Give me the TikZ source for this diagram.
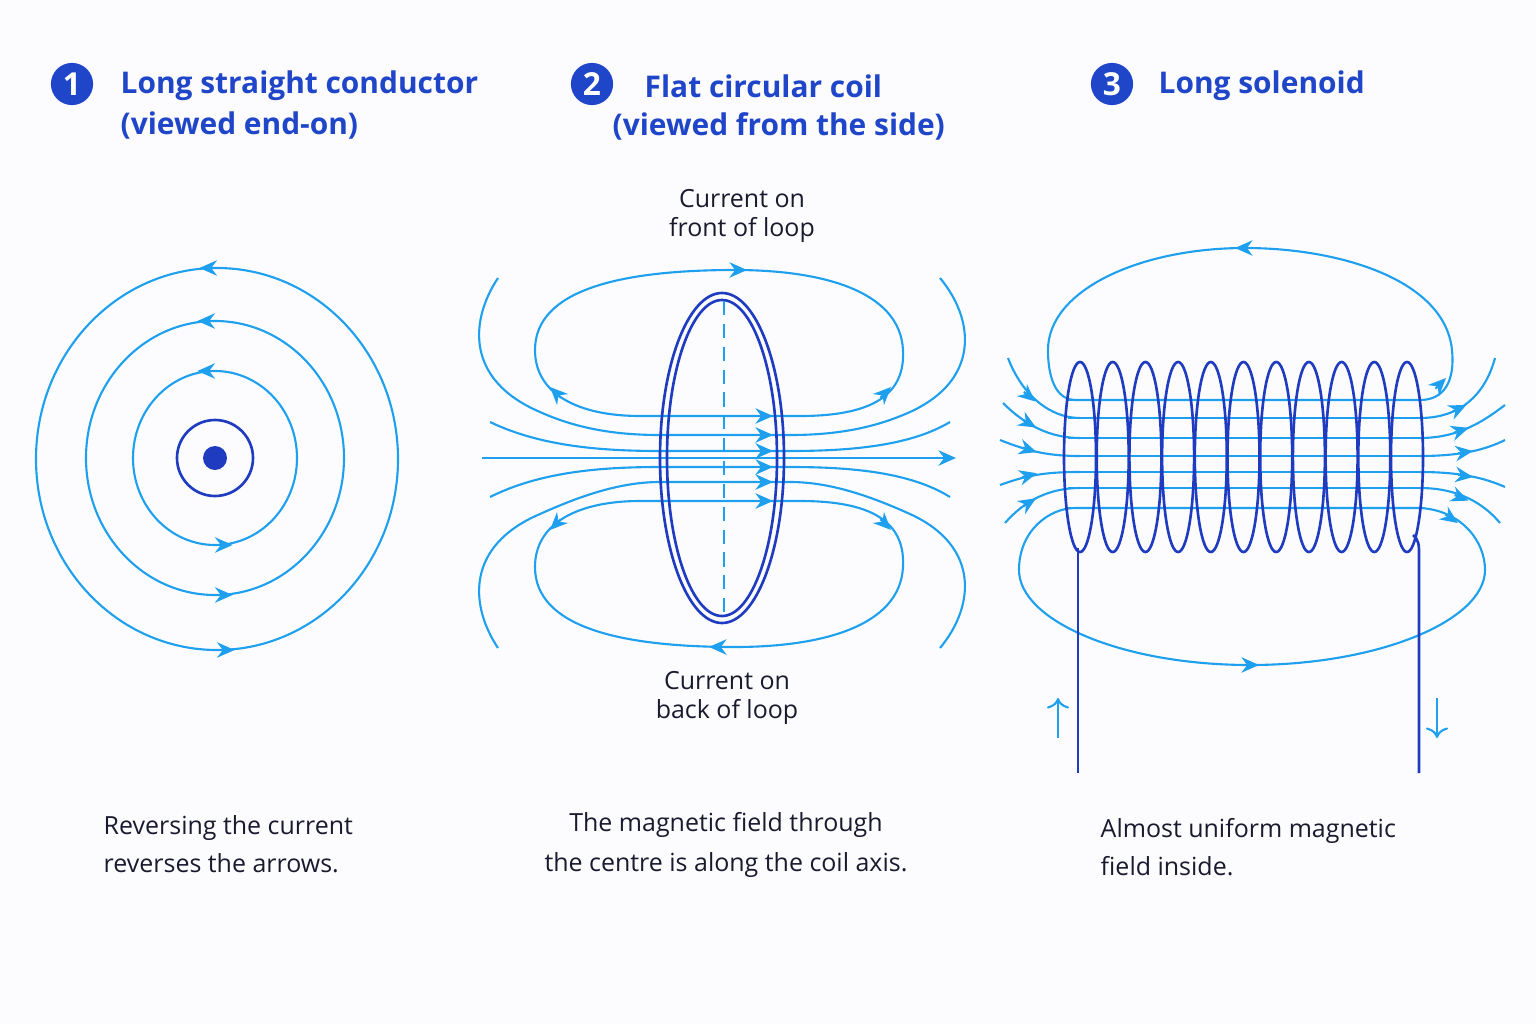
\documentclass[tikz,border=0pt]{standalone}
\usepackage{fontspec}
\setmainfont{Open Sans}
\usetikzlibrary{arrows.meta,decorations.markings,calc}
\definecolor{fl}{HTML}{1EA0EE}
\definecolor{coil}{HTML}{1F3CC0}
\definecolor{ttl}{HTML}{1F45C8}
\definecolor{txt}{HTML}{1A1A2E}
\newcommand\tipat[2]{\draw[fl,line width=0.6pt,-{Stealth[length=5pt,width=4.4pt]}] (#1) ++(#2+180:8) -- ++(#2:15);}
\begin{document}
\begin{tikzpicture}[x=0.01cm,y=-0.01cm,
  fl/.style={draw=fl,line width=0.6pt},
  cl/.style={draw=coil,line width=0.75pt},
  ttl/.style={font=\fontsize{8.5}{10}\selectfont\bfseries,text=ttl,anchor=west,inner sep=0},
  num/.style={circle,fill=ttl,minimum size=12pt,inner sep=0,text=white,font=\fontsize{9}{11}\selectfont\bfseries},
  body/.style={font=\fontsize{7.1}{9}\selectfont,text=txt,inner sep=0},
  ring/.style={fl,postaction={decorate,decoration={markings,
     mark=at position 0.25 with {\arrow{Stealth[length=5pt,width=4.4pt,reversed]}},
     mark=at position 0.75 with {\arrow{Stealth[length=5pt,width=4.4pt,reversed]}}}}}]
\fill[white!99!blue] (0,0) rectangle (1536,1024);
\useasboundingbox (0,0) rectangle (1536,1024);
% titles
\node[num] (n1) at (72,84) {1};
\node[ttl] (t1) at (120,86) {Long straight conductor};
\node[ttl] (t1b) at (120,126) {(viewed end-on)};
\node[num] (n2) at (592,84) {2};
\node[ttl] (t2) at (644,86) {Flat circular coil};
\node[ttl] (t2b) at (612,126) {(viewed from the side)};
\node[num] (n3) at (1112,84) {3};
\node[ttl] (t3) at (1158,86) {Long solenoid};
% panel 1
\fill[coil] (215,458) circle (12);
\draw[cl] (215,458) circle (38);
\draw[ring] (215,458) ellipse [x radius=82,y radius=87];
\draw[ring] (215,458) ellipse [x radius=129,y radius=137];
\draw[ring] (217,459) ellipse [x radius=181,y radius=191];
\node[body,anchor=west,align=left] (b1) at (103,844) {Reversing the current\\[1.8pt]reverses the arrows.};
% panel 2
\node[body,align=center] (c1) at (742,216) {Current on\\[-0.5pt]front of loop};
\node[body,align=center] (c2) at (727,698) {Current on\\[-0.5pt]back of loop};
\node[body,align=center] (b2) at (726,845) {The magnetic field through\\[2.4pt]the centre is along the coil axis.};
\draw[fl] (640,416) -- (800,416) .. controls (880,416) and (905,390) .. (903,350) .. controls (900,290) and (820,270) .. (735,270) .. controls (620,270) and (535,290) .. (535,350) .. controls (535,395) and (580,416) .. (640,416);
\draw[fl] (640,501) -- (800,501) .. controls (880,501) and (905,527) .. (903,567) .. controls (900,627) and (820,647) .. (735,647) .. controls (620,647) and (535,627) .. (535,567) .. controls (535,522) and (580,501) .. (640,501);
\draw[fl] (498,278) .. controls (470,320) and (465,380) .. (540,412) .. controls (580,430) and (620,435) .. (660,435) -- (790,435) .. controls (830,435) and (870,430) .. (910,412) .. controls (980,380) and (975,320) .. (940,278);
\draw[fl] (498,648) .. controls (470,606) and (465,546) .. (540,514) .. controls (580,496) and (620,482) .. (660,482) -- (790,482) .. controls (830,482) and (870,496) .. (910,514) .. controls (980,546) and (975,606) .. (940,648);
\draw[fl] (490,422) .. controls (540,446) and (600,451) .. (660,451) -- (790,451) .. controls (850,451) and (910,446) .. (950,422);
\draw[fl] (490,497) .. controls (540,472) and (600,467) .. (660,467) -- (790,467) .. controls (850,467) and (910,472) .. (950,497);
\draw[fl,-{Stealth[length=5pt,width=4.4pt]}] (482,458) -- (956,458);
\foreach \y in {416,435,451,467,482,501} {\tipat{766,\y}{0}}
\tipat{740,270}{0}
\tipat{716,647}{180}
\tipat{886,392}{-45}
\tipat{555,392}{-135}
\tipat{886,525}{45}
\tipat{555,525}{135}
\draw[cl] (722,458) ellipse [x radius=62,y radius=165];
\draw[cl] (722,458) ellipse [x radius=55,y radius=158];
\draw[fl,dashed,dash pattern=on 4pt off 2.5pt] (724,301) -- (724,615);
% panel 3
\foreach \y in {400,418,438,456,472,488,508} {\draw[fl] (1068,\y) -- (1425,\y);}
\draw[fl] (1075,400) -- (1420,400) .. controls (1445,400) and (1455,380) .. (1452,350) .. controls (1445,280) and (1340,248) .. (1245,248) .. controls (1140,248) and (1048,290) .. (1048,350) .. controls (1048,385) and (1060,400) .. (1075,400);
\draw[fl] (1075,508) -- (1420,508) .. controls (1460,510) and (1485,540) .. (1485,570) .. controls (1485,620) and (1380,665) .. (1250,665) .. controls (1120,665) and (1019,620) .. (1019,570) .. controls (1019,530) and (1050,508) .. (1075,508);
\tipat{1441,383}{-45}
\tipat{1242,248}{180}
\tipat{1452,519}{35}
\tipat{1252,665}{0}
\draw[fl] (1008,358) .. controls (1022,395) and (1050,418) .. (1080,418);
\draw[fl] (1003,403) .. controls (1025,425) and (1050,438) .. (1080,438);
\draw[fl] (1000,440) .. controls (1030,452) and (1050,456) .. (1080,456);
\draw[fl] (1000,485) .. controls (1030,474) and (1050,472) .. (1080,472);
\draw[fl] (1005,523) .. controls (1025,500) and (1050,488) .. (1080,488);
\tipat{1030,397}{40}
\tipat{1030,424}{30}
\tipat{1030,450}{18}
\tipat{1030,475}{-15}
\tipat{1030,502}{-32}
\draw[fl] (1420,418) .. controls (1460,418) and (1485,395) .. (1495,358);
\draw[fl] (1420,438) .. controls (1460,438) and (1485,420) .. (1505,405);
\draw[fl] (1420,456) .. controls (1460,456) and (1485,450) .. (1505,440);
\draw[fl] (1420,472) .. controls (1460,472) and (1485,478) .. (1505,487);
\draw[fl] (1420,488) .. controls (1460,488) and (1485,505) .. (1500,523);
\tipat{1460,408}{-25}
\tipat{1462,430}{-18}
\tipat{1466,452}{-8}
\tipat{1466,476}{8}
\tipat{1462,498}{22}
\foreach \i in {0,...,10} {\draw[cl] ($(1080,457)+(32.7*\i,0)$) ellipse [x radius=16,y radius=95];}
\draw[cl] (1078,548) -- (1078,773);
\draw[cl] (1413,535) .. controls (1419,540) and (1419,545) .. (1419,555) -- (1419,773);
\draw[fl,-{To[length=3pt]}] (1058,738) -- (1058,698);
\draw[fl,-{To[length=3pt]}] (1437,698) -- (1437,738);
\node[body,anchor=west,align=left] (b3) at (1100,847) {Almost uniform magnetic\\[2pt]field inside.};
\end{tikzpicture}
\end{document}
